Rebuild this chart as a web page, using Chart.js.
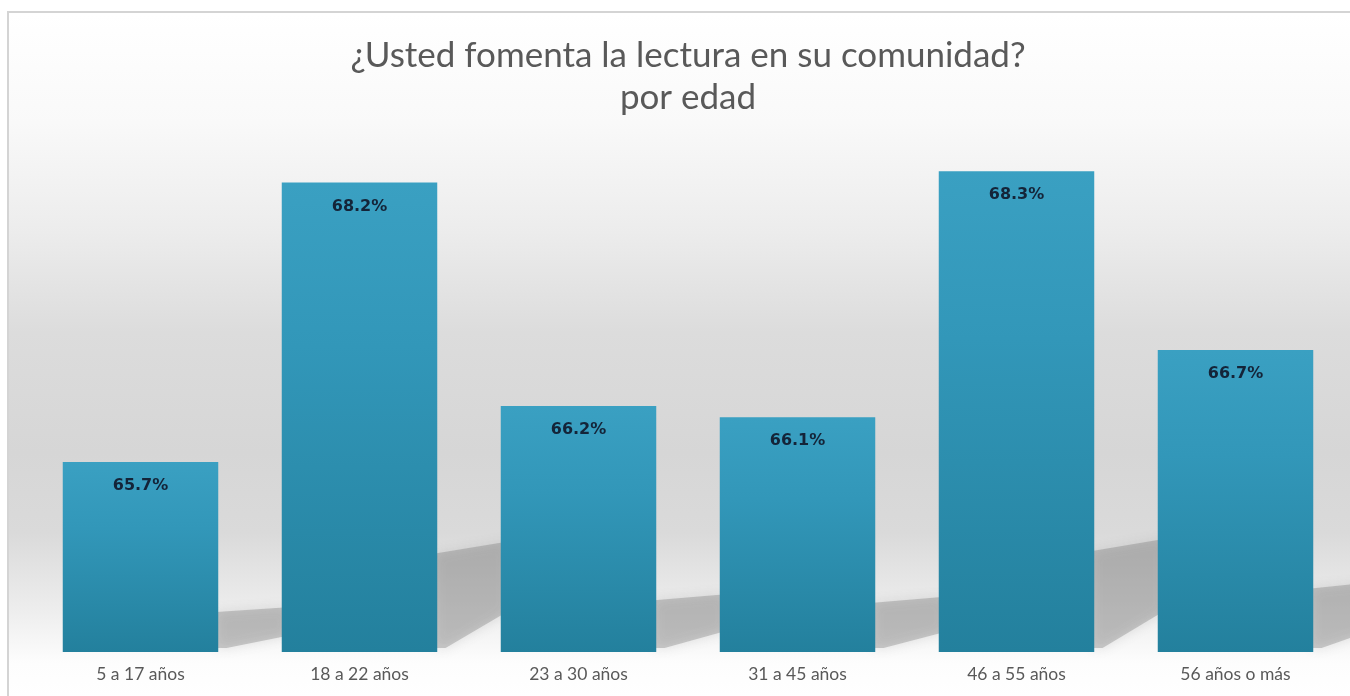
<!DOCTYPE html>
<html>
<head>
<meta charset="utf-8">
<title>¿Usted fomenta la lectura en su comunidad?</title>
<script src="https://cdn.jsdelivr.net/npm/chart.js"></script>
<style>
  html, body { margin: 0; padding: 0; background: #fff; }
  .frame {
    position: absolute; left: 7px; top: 11px; right: 0; bottom: 0;
    border-left: 2px solid #d4d4d4; border-top: 2px solid #d4d4d4;
    background: linear-gradient(to bottom, #ffffff 0px, #f9f9f9 110px, #ececec 220px, #dcdcdc 320px, #d6d6d6 440px, #dadada 520px, #eeeeee 600px, #fdfdfd 650px, #ffffff 685px);
  }
  canvas { position: absolute; left: 0; top: 0; }
</style>
</head>
<body>
<div class="frame"></div>
<canvas id="chart" width="1350" height="696"></canvas>
<script>
// datos
const titulo = ['¿Usted fomenta la lectura en su comunidad?', 'por edad'];
const edades = ['5 a 17 años', '18 a 22 años', '23 a 30 años', '31 a 45 años', '46 a 55 años', '56 años o más'];
const porcentajes = [65.7, 68.2, 66.2, 66.1, 68.3, 66.7];
const ejeMin = 64;
const ejeMax = 68.665;
const anchoBarra = 0.71;

// sombra detrás de cada barra
const sombras = {
  id: 'sombras',
  beforeDatasetsDraw(chart) {
    const ctx = chart.ctx;
    const xs = chart.scales.x;
    const ys = chart.scales.y;
    const cat = chart.chartArea.width / edades.length;
    const w = cat * anchoBarra;
    const base = ys.getPixelForValue(ejeMin);
    ctx.save();
    ctx.fillStyle = 'rgba(110,110,110,0.32)';
    ctx.shadowColor = 'rgba(100,100,100,0.5)';
    ctx.shadowBlur = 12;
    porcentajes.forEach((v, i) => {
      const r = xs.getPixelForValue(i) + w / 2;
      const h = base - ys.getPixelForValue(v);
      const gap = cat - w + 6;
      ctx.beginPath();
      ctx.moveTo(r - 2, base - 0.21 * h);
      ctx.lineTo(r + gap, base - 0.235 * h);
      ctx.lineTo(r + gap, base - 0.085 * h);
      ctx.lineTo(r + 0.12 * gap, base - 4);
      ctx.lineTo(r - 2, base - 4);
      ctx.closePath();
      ctx.fill();
    });
    ctx.restore();
  }
};

// etiquetas de valor
const etiquetas = {
  id: 'etiquetas',
  afterDatasetsDraw(chart) {
    const ctx = chart.ctx;
    const meta = chart.getDatasetMeta(0);
    ctx.save();
    ctx.font = 'bold 16px "DejaVu Sans"';
    ctx.fillStyle = '#142438';
    ctx.textAlign = 'center';
    ctx.textBaseline = 'middle';
    meta.data.forEach((bar, i) => {
      ctx.fillText(porcentajes[i].toFixed(1) + '%', bar.x, bar.y + 24);
    });
    ctx.restore();
  }
};

function colorBarra(c) {
  const chart = c.chart;
  const y = chart.scales.y;
  if (!y || c.dataIndex === undefined) return '#2f8fb0';
  const top = y.getPixelForValue(porcentajes[c.dataIndex]);
  const bottom = y.getPixelForValue(ejeMin);
  if (!isFinite(top) || !isFinite(bottom)) return '#2f8fb0';
  const g = chart.ctx.createLinearGradient(0, top, 0, bottom);
  g.addColorStop(0, '#3aa0c2');
  g.addColorStop(0.35, '#3297b9');
  g.addColorStop(1, '#23809d');
  return g;
}

new Chart(document.getElementById('chart'), {
  type: 'bar',
  data: {
    labels: edades,
    datasets: [{
      data: porcentajes,
      backgroundColor: colorBarra,
      borderWidth: 0,
      barPercentage: anchoBarra,
      categoryPercentage: 1
    }]
  },
  options: {
    responsive: false,
    animation: false,
    layout: { padding: { left: 31, right: 5, top: 0, bottom: 0 } },
    plugins: {
      legend: { display: false },
      tooltip: { enabled: false },
      title: {
        display: true,
        text: titulo,
        color: '#595959',
        font: { family: 'Lato', size: 35, weight: 'normal', lineHeight: 1.22 },
        padding: { top: 34, bottom: 11 }
      }
    },
    scales: {
      x: {
        grid: { display: false, drawTicks: false },
        border: { display: false },
        ticks: { color: '#595959', font: { family: 'Lato', size: 17.5 }, padding: 11.5, maxRotation: 0 }
      },
      y: {
        display: false,
        min: ejeMin,
        max: ejeMax
      }
    }
  },
  plugins: [sombras, etiquetas]
});
</script>
</body>
</html>
